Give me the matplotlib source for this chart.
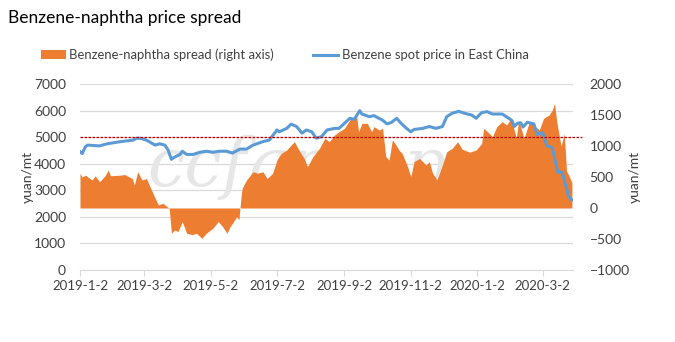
import matplotlib
matplotlib.use("Agg")
import matplotlib.pyplot as plt
from matplotlib.patches import Patch
from matplotlib.lines import Line2D
import pandas as pd

plt.rcParams['font.family'] = ['Lato', 'DejaVu Sans']

title = "Benzene-naphtha price spread"
spread_label = "Benzene-naphtha spread (right axis)"
price_label = "Benzene spot price in East China"

price_dates = [
    "2019-01-02", "2019-01-04", "2019-01-07", "2019-01-09", "2019-01-20", "2019-01-27",
    "2019-02-08", "2019-02-20", "2019-02-23", "2019-02-26", "2019-03-04", "2019-03-09",
    "2019-03-12", "2019-03-16", "2019-03-21", "2019-03-24", "2019-03-27", "2019-03-30",
    "2019-04-04", "2019-04-06", "2019-04-10", "2019-04-16", "2019-04-22", "2019-04-28",
    "2019-05-04", "2019-05-10", "2019-05-17", "2019-05-22", "2019-05-29", "2019-06-04",
    "2019-06-10", "2019-06-19", "2019-06-25", "2019-07-02", "2019-07-04", "2019-07-11",
    "2019-07-15", "2019-07-20", "2019-07-25", "2019-07-29", "2019-08-03", "2019-08-07",
    "2019-08-12", "2019-08-17", "2019-08-24", "2019-08-28", "2019-09-02", "2019-09-07",
    "2019-09-11", "2019-09-16", "2019-09-18", "2019-09-25", "2019-09-29", "2019-10-07",
    "2019-10-11", "2019-10-15", "2019-10-20", "2019-10-24", "2019-10-29", "2019-11-02",
    "2019-11-05", "2019-11-13", "2019-11-19", "2019-11-25", "2019-12-01", "2019-12-05",
    "2019-12-10", "2019-12-16", "2019-12-23", "2019-12-28", "2020-01-01", "2020-01-06",
    "2020-01-11", "2020-01-16", "2020-01-25", "2020-01-31", "2020-02-03", "2020-02-05",
    "2020-02-08", "2020-02-11", "2020-02-13", "2020-02-17", "2020-02-23", "2020-02-26",
    "2020-03-02", "2020-03-06", "2020-03-11", "2020-03-16", "2020-03-20", "2020-03-24",
    "2020-03-26", "2020-03-29",
]
price_values = [
    4450, 4380, 4640, 4700, 4670, 4750,
    4830, 4890, 4960, 4960, 4890, 4770,
    4700, 4750, 4700, 4510, 4165, 4250,
    4350, 4470, 4350, 4350, 4430, 4470,
    4430, 4470, 4470, 4400, 4550, 4550,
    4700, 4830, 4890, 5270, 5200, 5330,
    5490, 5400, 5150, 5270, 5200, 4960,
    5020, 5270, 5330, 5330, 5520, 5710,
    5670, 5995, 5870, 5770, 5810, 5640,
    5500, 5550, 5710, 5520, 5330, 5200,
    5290, 5330, 5400, 5330, 5400, 5770,
    5900, 5970, 5880, 5830, 5710, 5920,
    5960, 5870, 5870, 5710, 5620, 5400,
    5520, 5540, 5380, 5560, 5500, 5100,
    5170, 4680, 4600, 3680, 3680, 3080,
    2760, 2640,
]

spread_dates = [
    "2019-01-02", "2019-01-04", "2019-01-07", "2019-01-09", "2019-01-13", "2019-01-16",
    "2019-01-20", "2019-01-25", "2019-01-28", "2019-01-30", "2019-02-08", "2019-02-12",
    "2019-02-19", "2019-02-21", "2019-02-24", "2019-02-28", "2019-03-04", "2019-03-10",
    "2019-03-15", "2019-03-19", "2019-03-23", "2019-03-25", "2019-03-27", "2019-03-30",
    "2019-04-02", "2019-04-06", "2019-04-10", "2019-04-15", "2019-04-19", "2019-04-24",
    "2019-04-28", "2019-05-04", "2019-05-09", "2019-05-13", "2019-05-17", "2019-05-20",
    "2019-05-22", "2019-05-26", "2019-05-28", "2019-05-30", "2019-05-31", "2019-06-04",
    "2019-06-10", "2019-06-14", "2019-06-19", "2019-06-23", "2019-06-28", "2019-07-02",
    "2019-07-06", "2019-07-11", "2019-07-15", "2019-07-18", "2019-07-23", "2019-07-27",
    "2019-07-30", "2019-08-04", "2019-08-10", "2019-08-15", "2019-08-19", "2019-08-24",
    "2019-08-28", "2019-09-02", "2019-09-07", "2019-09-13", "2019-09-15", "2019-09-18",
    "2019-09-23", "2019-09-27", "2019-09-29", "2019-10-04", "2019-10-07", "2019-10-10",
    "2019-10-13", "2019-10-16", "2019-10-20", "2019-10-22", "2019-10-25", "2019-10-30",
    "2019-11-02", "2019-11-05", "2019-11-10", "2019-11-16", "2019-11-19", "2019-11-22",
    "2019-11-26", "2019-12-01", "2019-12-05", "2019-12-10", "2019-12-15", "2019-12-19",
    "2019-12-26", "2020-01-01", "2020-01-06", "2020-01-08", "2020-01-13", "2020-01-16",
    "2020-01-20", "2020-01-25", "2020-01-29", "2020-02-02", "2020-02-07", "2020-02-09",
    "2020-02-14", "2020-02-19", "2020-02-23", "2020-02-28", "2020-03-03", "2020-03-08",
    "2020-03-11", "2020-03-13", "2020-03-15", "2020-03-19", "2020-03-22", "2020-03-24",
    "2020-03-26", "2020-03-29",
]
spread_values = [
    560, 500, 530, 503, 452, 520,
    424, 520, 613, 520, 530, 540,
    476, 371, 586, 452, 476, 237,
    50, 76, 24, -10, -408, -355,
    -380, -220, -408, -430, -408, -489,
    -408, -327, -220, -300, -408, -300,
    -250, -140, -190, 182, 318, 452,
    586, 560, 586, 476, 560, 774,
    882, 936, 1016, 1070, 909, 800,
    667, 828, 962, 1124, 1070, 1178,
    1231, 1285, 1420, 1500, 1231, 1366,
    1366, 1231, 1312, 1258, 1285, 828,
    774, 1100, 1000, 936, 882, 667,
    505, 748, 800, 694, 748, 560,
    452, 694, 909, 962, 1070, 950,
    900, 936, 1040, 1285, 1204, 1150,
    1312, 1393, 1339, 1446, 1124, 1420,
    1124, 1393, 1339, 1258, 1446, 1500,
    1580, 1689, 1400, 1000, 1200, 600,
    532, 410,
]

x_tick_labels = ["2019-1-2", "2019-3-2", "2019-5-2", "2019-7-2",
                 "2019-9-2", "2019-11-2", "2020-1-2", "2020-3-2"]
reference_price = 5000

pd_price = pd.to_datetime(price_dates)
pd_spread = pd.to_datetime(spread_dates)
tick_dates = pd.to_datetime(["2019-01-02", "2019-03-02", "2019-05-02", "2019-07-02",
                             "2019-09-02", "2019-11-02", "2020-01-02", "2020-03-02"])

fig = plt.figure(figsize=(6.75, 3.42), dpi=100)
ax = fig.add_axes([80/675, 1-270/342, 493/675, 186/342])
ax2 = ax.twinx()

ORANGE = "#ED7D31"
BLUE = "#5B9BD5"
GRID = "#D9D9D9"
TXT = "#404040"

# spread area on right axis, behind price line
ax2.fill_between(pd_spread, 0, spread_values, color=ORANGE, linewidth=0, zorder=2)
ax2.set_ylim(-1000, 2000)
ax2.set_yticks(range(-1000, 2001, 500))

ax.set_zorder(ax2.get_zorder() + 1)
ax.patch.set_visible(False)
ax.plot(pd_price, price_values, color=BLUE, linewidth=2.2, zorder=3, solid_joinstyle='round')
ax.set_ylim(0, 7000)
ax.set_yticks(range(0, 7001, 1000))
ax.set_xlim(pd.Timestamp("2019-01-02"), pd.Timestamp("2020-03-30"))
ax.set_xticks(tick_dates)
ax.set_xticklabels(x_tick_labels)

# gridlines drawn on the lower (twin) axes so they sit behind the area
for v in range(1000, 7001, 1000):
    ax2.axhline((v / 7000) * 3000 - 1000, color=GRID, linewidth=0.9, zorder=0)

# watermark
ax2.text(0.44, 0.55, "ccfgroup", transform=ax2.transAxes, fontsize=48,
         family="DejaVu Serif", style="italic", color="#E6E6E6",
         ha="center", va="center", zorder=1)

# red dotted reference line
ax.plot([0, 1.018], [reference_price / 7000] * 2, transform=ax.transAxes,
        color="#C00000", linestyle=(0, (2, 1.2)), linewidth=0.9, clip_on=False, zorder=4)

for a in (ax, ax2):
    for s in ("top", "left", "right", "bottom"):
        a.spines[s].set_visible(False)
ax.spines["bottom"].set_visible(True)
ax.spines["bottom"].set_color(GRID)
ax.tick_params(axis="x", length=4, color=GRID, labelsize=9.5, labelcolor=TXT, pad=3)
ax.tick_params(axis="y", length=0, labelsize=10, labelcolor=TXT, pad=10)
ax2.tick_params(axis="y", length=0, labelsize=10, labelcolor=TXT, pad=12)
ax.set_ylabel("yuan/mt", fontsize=10, color=TXT, labelpad=0)
ax2.set_ylabel("yuan/mt", fontsize=10, color=TXT, rotation=90, labelpad=-1)

fig.text(8/675, 1-18/342, title, fontsize=12.5, color="#000000", ha="left", va="center")

handles = [Patch(facecolor=ORANGE, edgecolor="none"),
           Line2D([0], [0], color=BLUE, linewidth=2.2)]
fig.legend(handles, [spread_label, price_label], loc="center left",
           bbox_to_anchor=(29/675, 1-55/342), ncol=2, frameon=False,
           fontsize=9.4, labelcolor=TXT, handlelength=1.9, handletextpad=0.3,
           columnspacing=3.0, handleheight=0.7)

fig.savefig("out.png", dpi=100)
